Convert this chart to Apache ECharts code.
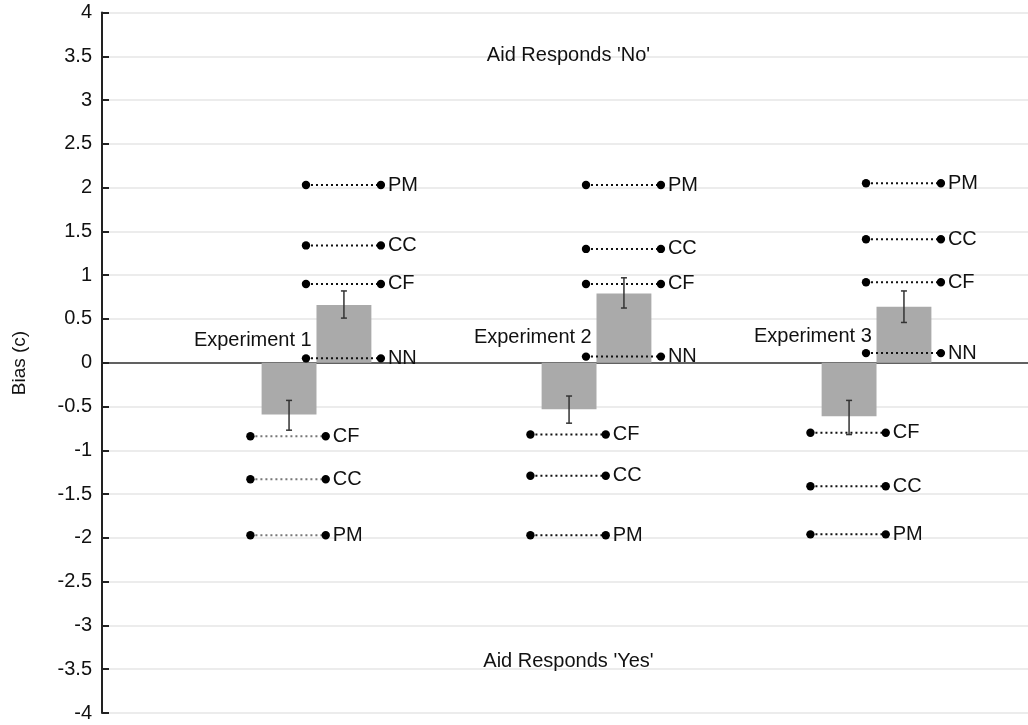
<!DOCTYPE html>
<html>
<head>
<meta charset="utf-8">
<script src="https://cdn.jsdelivr.net/npm/echarts@6/dist/echarts.min.js"></script>
<style>
html,body{margin:0;padding:0;background:#fff;}
#chart{width:1028px;height:725px;}
</style>
</head>
<body>
<div id="chart"></div>
<script>
// ---------- data ----------
var experiments = ['Experiment 1', 'Experiment 2', 'Experiment 3'];
var yTicks = [-4, -3.5, -3, -2.5, -2, -1.5, -1, -0.5, 0, 0.5, 1, 1.5, 2, 2.5, 3, 3.5, 4];

// mean bias bars (negative = "Yes" side, positive = "No" side)
var negMeans = [-0.59, -0.53, -0.61];
var negErrLow = [-0.77, -0.69, -0.82];
var negErrHigh = [-0.43, -0.38, -0.43];
var posMeans = [0.66, 0.79, 0.64];
var posErrLow = [0.51, 0.625, 0.46];
var posErrHigh = [0.82, 0.97, 0.82];

// reference points per experiment
var posLabels = ['PM', 'CC', 'CF', 'NN'];
var posValues = [
  [2.03, 1.34, 0.90, 0.05],
  [2.03, 1.30, 0.90, 0.07],
  [2.05, 1.41, 0.92, 0.11]
];
var negLabels = ['CF', 'CC', 'PM'];
var negValues = [
  [-0.84, -1.33, -1.97],
  [-0.82, -1.29, -1.97],
  [-0.80, -1.41, -1.96]
];
var expLabelY = [0.25, 0.29, 0.30];
var regionLabels = ["Aid Responds 'No'", "Aid Responds 'Yes'"];
var regionLabelY = [3.51, -3.41];

// ---------- layout constants (styling only) ----------
var BAR_W = 0.196;
var POS_L = -0.0375, POS_R = 0.23;
var NEG_L = -0.236, NEG_R = 0.033;
var FONT = '"Liberation Sans", Arial, Helvetica, sans-serif';
var FS = 20;

// build series data
var barData = [];
for (var i = 0; i < experiments.length; i++) {
  barData.push([i + 1, negMeans[i], negErrLow[i], negErrHigh[i], -1]);
  barData.push([i + 1, posMeans[i], posErrLow[i], posErrHigh[i], 1]);
}
var dumbData = [];
for (var i = 0; i < experiments.length; i++) {
  for (var j = 0; j < posLabels.length; j++) dumbData.push([i + 1, posValues[i][j], posLabels[j], 1, i]);
  for (var j = 0; j < negLabels.length; j++) dumbData.push([i + 1, negValues[i][j], negLabels[j], -1, i]);
}
var expData = experiments.map(function (e, i) { return [i + 1, expLabelY[i], e]; });
var regionData = regionLabels.map(function (t, i) { return [1.9, regionLabelY[i], t]; });

var chart = echarts.init(document.getElementById('chart'), null, {renderer: 'canvas'});
chart.setOption({
  animation: false,
  backgroundColor: '#fff',
  grid: {left: 102, right: 0, top: 12.5, bottom: 12, containLabel: false},
  xAxis: {
    type: 'value', min: 0.234, max: 3.541,
    axisLine: {show: true, onZero: true, lineStyle: {color: '#333', width: 1.6}},
    axisTick: {show: false}, axisLabel: {show: false}, splitLine: {show: false}
  },
  yAxis: {
    type: 'value', min: -4, max: 4, interval: 0.5,
    axisLine: {show: true, onZero: false, lineStyle: {color: '#222', width: 2}},
    axisTick: {show: true, inside: true, length: 7, lineStyle: {color: '#222', width: 2}},
    axisLabel: {
      color: '#111', fontSize: FS, fontFamily: FONT, margin: 10,
      formatter: function (v) { return String(v); }
    },
    splitLine: {show: true, lineStyle: {color: '#e6e6e6', width: 1.5}}
  },
  graphic: [{
    type: 'text', x: 20, y: 363, rotation: Math.PI / 2,
    style: {text: 'Bias (c)', fill: '#111', font: '19px ' + FONT, align: 'center', verticalAlign: 'middle'}
  }],
  series: [
    {
      type: 'custom', name: 'bars', data: barData, z: 2,
      renderItem: function (params, api) {
        var x = api.value(0), v = api.value(1), lo = api.value(2), hi = api.value(3), side = api.value(4);
        var x0 = side < 0 ? x - BAR_W : x, x1 = side < 0 ? x : x + BAR_W;
        var p0 = api.coord([x0, 0]), p1 = api.coord([x1, v]);
        var xc = api.coord([(x0 + x1) / 2, 0])[0];
        var yl = api.coord([x, lo])[1], yh = api.coord([x, hi])[1];
        return {type: 'group', children: [
          {type: 'rect', shape: {x: Math.min(p0[0], p1[0]), y: Math.min(p0[1], p1[1]), width: Math.abs(p1[0] - p0[0]), height: Math.abs(p1[1] - p0[1])},
            style: {fill: '#aaaaaa'}},
          {type: 'line', shape: {x1: xc, y1: yl, x2: xc, y2: yh}, style: {stroke: '#333', lineWidth: 1.5}},
          {type: 'line', shape: {x1: xc - 3, y1: yl, x2: xc + 3, y2: yl}, style: {stroke: '#333', lineWidth: 1.5}},
          {type: 'line', shape: {x1: xc - 3, y1: yh, x2: xc + 3, y2: yh}, style: {stroke: '#333', lineWidth: 1.5}}
        ]};
      }
    },
    {
      type: 'custom', name: 'dumbbells', data: dumbData, z: 3,
      renderItem: function (params, api) {
        var x = api.value(0), v = api.value(1), side = api.value(3), ei = api.value(4);
        var lab = dumbData[params.dataIndex][2];
        var l = side > 0 ? POS_L : NEG_L, r = side > 0 ? POS_R : NEG_R;
        var pl = api.coord([x + l, v]), pr = api.coord([x + r, v]);
        var lineColor = (side < 0 && ei === 0) ? '#777' : '#111';
        return {type: 'group', children: [
          {type: 'line', shape: {x1: pl[0], y1: pl[1], x2: pr[0], y2: pr[1]},
            style: {stroke: lineColor, lineWidth: 2, lineDash: [2, 3]}},
          {type: 'circle', shape: {cx: pl[0], cy: pl[1], r: 4.2}, style: {fill: '#000'}},
          {type: 'circle', shape: {cx: pr[0], cy: pr[1], r: 4.2}, style: {fill: '#000'}},
          {type: 'text', x: pr[0] + 7, y: pr[1], style: {text: lab, fill: '#111', font: FS + 'px ' + FONT, align: 'left', verticalAlign: 'middle'}}
        ]};
      }
    },
    {
      type: 'custom', name: 'expLabels', data: expData, z: 4,
      renderItem: function (params, api) {
        var p = api.coord([api.value(0) - 0.017, api.value(1)]);
        return {type: 'text', x: p[0], y: p[1], style: {text: expData[params.dataIndex][2], fill: '#111', font: FS + 'px ' + FONT, align: 'right', verticalAlign: 'middle'}};
      }
    },
    {
      type: 'custom', name: 'regionLabels', data: regionData, z: 4,
      renderItem: function (params, api) {
        var p = api.coord([api.value(0), api.value(1)]);
        return {type: 'text', x: p[0], y: p[1], style: {text: regionData[params.dataIndex][2], fill: '#111', font: FS + 'px ' + FONT, align: 'center', verticalAlign: 'middle'}};
      }
    }
  ]
});
</script>
</body>
</html>
